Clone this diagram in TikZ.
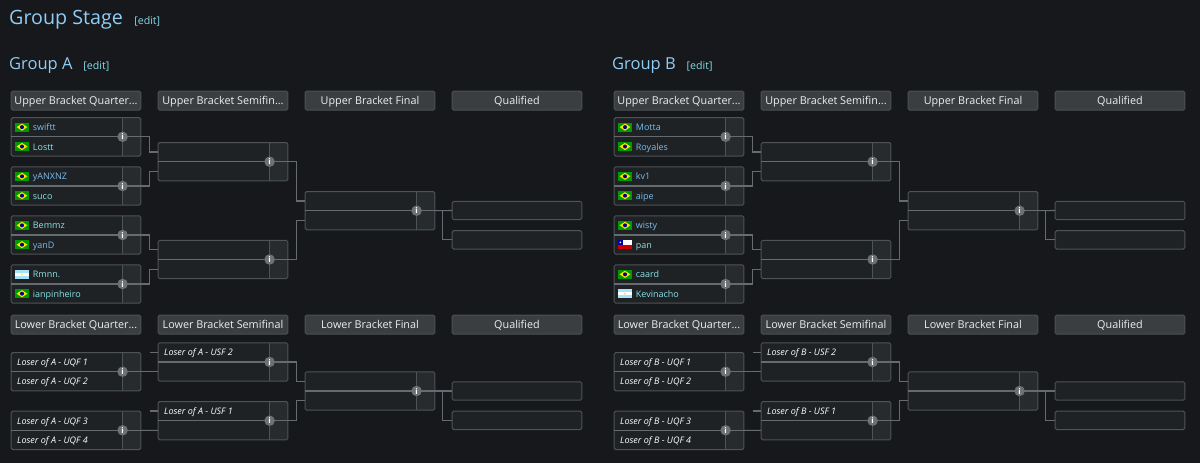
\documentclass[tikz,border=0pt]{standalone}
\usepackage{fontspec}
\setmainfont{Open Sans}
\usetikzlibrary{positioning, calc}
\definecolor{pagebg}{HTML}{16181B}
\definecolor{headfill}{HTML}{3A3E41}
\definecolor{headedge}{HTML}{4C5154}
\definecolor{matchfill}{HTML}{1F2224}
\definecolor{cellfill}{HTML}{272B2E}
\definecolor{edgegray}{HTML}{4E5356}
\definecolor{linegray}{HTML}{666B6F}
\definecolor{dotgray}{HTML}{6E7072}
\definecolor{titleblue}{HTML}{90CDF5}
\definecolor{editteal}{HTML}{86DAEA}
\definecolor{nameblue}{HTML}{78BCEE}
\definecolor{nameteal}{HTML}{88E2E6}
\definecolor{headtext}{HTML}{EEEEEE}
\tikzset{%
	headbox/.style={draw=headedge, fill=headfill, rectangle, rounded corners=1.5pt, line width=1pt,%
		minimum width=129.6pt, minimum height=19pt, inner sep=0pt, outer sep=0pt, text=headtext,%
		text height=10.4pt, text depth=2.4pt, font=\fontsize{10.8}{12}\selectfont},
	matchnode/.style={draw=edgegray, fill=matchfill, rectangle, rounded corners=1.5pt, line width=1pt,%
		minimum width=129.6pt, minimum height=38.4pt, inner sep=0pt, outer sep=0pt,%
		path picture={
			\fill[cellfill] ([xshift=-18.2pt]path picture bounding box.north east) rectangle (path picture bounding box.south east);
			\draw[edgegray, line width=1pt] ([xshift=-18.2pt]path picture bounding box.north east) -- ([xshift=-18.2pt]path picture bounding box.south east);
		}},
	slotbox/.style={draw=edgegray, fill=matchfill, rectangle, rounded corners=1.5pt, line width=1pt,%
		minimum width=129.6pt, minimum height=18.4pt, inner sep=0pt, outer sep=0pt},
	connector/.style={draw=linegray, line width=1.1pt},
	elbow/.style={connector, to path={-- ++(8.3pt,0) |- (\tikztotarget)}},
	infodot/.style={circle, fill=dotgray, minimum size=10.5pt, inner sep=0pt, text=white,%
		font=\fontsize{8}{8}\bfseries\selectfont},
	playername/.style={anchor=west, inner sep=0pt, text height=9pt, text depth=2pt, font=\fontsize{9}{11}\selectfont},
	losername/.style={anchor=west, inner sep=0pt, text=white, text height=9pt, text depth=2pt, font=\fontsize{9}{11}\itshape\selectfont},
	titlenode/.style={inner sep=0pt, text=titleblue},
	editnode/.style={inner sep=0pt, text=editteal, font=\fontsize{10.6}{12}\selectfont},
	flagbr/.pic={
		\fill[green!60!black] (-7pt,-4.6pt) rectangle (7pt,4.6pt);
		\fill[yellow!85!orange] (-5.4pt,0) -- (0,3.6pt) -- (5.4pt,0) -- (0,-3.6pt) -- cycle;
		\fill[blue!55!black] (0,0) circle (2pt);
	},
	flagar/.pic={
		\fill[cyan!35!white] (-7pt,-4.6pt) rectangle (7pt,4.6pt);
		\fill[white] (-7pt,-1.5pt) rectangle (7pt,1.5pt);
		\fill[yellow!70!orange] (0,0) circle (0.9pt);
	},
	flagcl/.pic={
		\fill[white] (-7pt,0) rectangle (7pt,4.6pt);
		\fill[red!80!black] (-7pt,-4.6pt) rectangle (7pt,0);
		\fill[blue!65!black] (-7pt,0) rectangle (-2.4pt,4.6pt);
		\fill[white] (-4.7pt,2.3pt) circle (0.9pt);
	}
}
\newcommand{\matchbox}[2]{%
	\node[matchnode, #2] (#1) {};
	\coordinate (#1-t) at ([yshift=9.7pt]#1.west);
	\coordinate (#1-b) at ([yshift=-9.7pt]#1.west);
	\coordinate (#1-i) at ([xshift=-18.2pt]#1.east);
}
\newcommand{\matchmid}[1]{%
	\draw[connector] (#1.west) -- (#1-i);
	\draw[connector] (#1-i) -- (#1.east);
	\node[infodot] (#1-dot) at (#1-i) {i};
}
\newcommand{\playerrow}[5]{%
	\pic at ([xshift=10.8pt]#1-#2) {#3};
	\node[playername, text=#4] (#1-#2-name) at ([xshift=21.5pt]#1-#2) {#5};
}
\newcommand{\loserrow}[3]{%
	\node[losername] (#1-#2-name) at ([xshift=5.8pt]#1-#2) {#3};
}
\begin{document}
\begin{tikzpicture}
	\useasboundingbox[fill=pagebg] (0pt,0pt) rectangle (1200pt,-463pt);

	\node[titlenode, anchor=base west, font=\fontsize{19.7}{24}\selectfont] (stage) at (9pt,-24.5pt) {Group Stage};
	\node[editnode, base right=11pt of stage] (stage-edit) {[edit]};

	\foreach \gid/\grp/\gx in {a/A/0pt, b/B/603pt}{
		\begin{scope}[xshift=\gx]
			\node[titlenode, anchor=base west, font=\fontsize{16.5}{20}\selectfont] (\gid-title) at (9pt,-69.5pt) {Group \grp};
			\node[editnode, base right=10.5pt of \gid-title] (\gid-edit) {[edit]};

			% upper bracket
			\node[headbox] (\gid-h1) at (76pt,-100.7pt) {Upper Bracket Quarter...};
			\node[headbox, right=17.4pt of \gid-h1] (\gid-h2) {Upper Bracket Semifin...};
			\node[headbox, right=17.4pt of \gid-h2] (\gid-h3) {Upper Bracket Final};
			\node[headbox, right=17.4pt of \gid-h3] (\gid-h4) {Qualified};
			\matchbox{\gid-q1}{below=7.4pt of \gid-h1}
			\matchbox{\gid-q2}{below=10.8pt of \gid-q1}
			\matchbox{\gid-q3}{below=10.6pt of \gid-q2}
			\matchbox{\gid-q4}{below=10.6pt of \gid-q3}
			\matchbox{\gid-s1}{below=32.3pt of \gid-h2}
			\matchbox{\gid-s2}{below=59.4pt of \gid-s1}
			\matchbox{\gid-f}{below=81.3pt of \gid-h3}
			\node[slotbox, below=91.1pt of \gid-h4] (\gid-w1) {};
			\node[slotbox, below=11pt of \gid-w1] (\gid-w2) {};
			\coordinate (\gid-ufork) at ([xshift=7.6pt]\gid-f.east);

			\draw[elbow] (\gid-q1.east) to (\gid-s1-t);
			\draw[elbow] (\gid-q2.east) to (\gid-s1-b);
			\draw[elbow] (\gid-q3.east) to (\gid-s2-t);
			\draw[elbow] (\gid-q4.east) to (\gid-s2-b);
			\draw[elbow] (\gid-s1.east) to (\gid-f-t);
			\draw[elbow] (\gid-s2.east) to (\gid-f-b);
			\draw[connector] (\gid-f.east) -- (\gid-w1.west);
			\draw[connector] (\gid-ufork) |- (\gid-w2.west);
			\matchmid{\gid-q1}
			\matchmid{\gid-q2}
			\matchmid{\gid-q3}
			\matchmid{\gid-q4}
			\matchmid{\gid-s1}
			\matchmid{\gid-s2}
			\matchmid{\gid-f}

			% lower bracket
			\node[headbox, below=12pt of \gid-q4] (\gid-h5) {Lower Bracket Quarter...};
			\node[headbox, right=17.4pt of \gid-h5] (\gid-h6) {Lower Bracket Semifinal};
			\node[headbox, right=17.4pt of \gid-h6] (\gid-h7) {Lower Bracket Final};
			\node[headbox, right=17.4pt of \gid-h7] (\gid-h8) {Qualified};
			\matchbox{\gid-lq1}{below=18.3pt of \gid-h5}
			\matchbox{\gid-lq2}{below=20.2pt of \gid-lq1}
			\matchbox{\gid-ls1}{below=8.6pt of \gid-h6}
			\matchbox{\gid-ls2}{below=20.3pt of \gid-ls1}
			\matchbox{\gid-lf}{below=37.6pt of \gid-h7}
			\node[slotbox, below=47.6pt of \gid-h8] (\gid-l1) {};
			\node[slotbox, below=11pt of \gid-l1] (\gid-l2) {};
			\coordinate (\gid-lfork) at ([xshift=7.6pt]\gid-lf.east);
			\coordinate (\gid-stub1) at ([xshift=-8pt]\gid-ls1-t);
			\coordinate (\gid-stub2) at ([xshift=-8pt]\gid-ls2-t);

			\draw[connector] (\gid-stub1) -- (\gid-ls1-t);
			\draw[connector] (\gid-stub2) -- (\gid-ls2-t);
			\draw[connector] (\gid-lq1.east) -- (\gid-ls1-b);
			\draw[connector] (\gid-lq2.east) -- (\gid-ls2-b);
			\draw[elbow] (\gid-ls1.east) to (\gid-lf-t);
			\draw[elbow] (\gid-ls2.east) to (\gid-lf-b);
			\draw[connector] (\gid-lf.east) -- (\gid-l1.west);
			\draw[connector] (\gid-lfork) |- (\gid-l2.west);
			\matchmid{\gid-lq1}
			\matchmid{\gid-lq2}
			\matchmid{\gid-ls1}
			\matchmid{\gid-ls2}
			\matchmid{\gid-lf}

			\loserrow{\gid-lq1}{t}{Loser of \grp{} - UQF 1}
			\loserrow{\gid-lq1}{b}{Loser of \grp{} - UQF 2}
			\loserrow{\gid-lq2}{t}{Loser of \grp{} - UQF 3}
			\loserrow{\gid-lq2}{b}{Loser of \grp{} - UQF 4}
			\loserrow{\gid-ls1}{t}{Loser of \grp{} - USF 2}
			\loserrow{\gid-ls2}{t}{Loser of \grp{} - USF 1}
		\end{scope}
	}

	% group A players
	\playerrow{a-q1}{t}{flagbr}{nameblue}{swiftt}
	\playerrow{a-q1}{b}{flagbr}{nameteal}{Lostt}
	\playerrow{a-q2}{t}{flagbr}{nameblue}{yANXNZ}
	\playerrow{a-q2}{b}{flagbr}{nameteal}{suco}
	\playerrow{a-q3}{t}{flagbr}{nameteal}{Bemmz}
	\playerrow{a-q3}{b}{flagbr}{nameblue}{yanD}
	\playerrow{a-q4}{t}{flagar}{nameteal}{Rmnn.}
	\playerrow{a-q4}{b}{flagbr}{nameteal}{ianpinheiro}

	% group B players
	\playerrow{b-q1}{t}{flagbr}{nameblue}{Motta}
	\playerrow{b-q1}{b}{flagbr}{nameblue}{Royales}
	\playerrow{b-q2}{t}{flagbr}{nameblue}{kv1}
	\playerrow{b-q2}{b}{flagbr}{nameblue}{aipe}
	\playerrow{b-q3}{t}{flagbr}{nameblue}{wisty}
	\playerrow{b-q3}{b}{flagcl}{nameteal}{pan}
	\playerrow{b-q4}{t}{flagbr}{nameteal}{caard}
	\playerrow{b-q4}{b}{flagar}{nameteal}{Kevinacho}
\end{tikzpicture}
\end{document}
